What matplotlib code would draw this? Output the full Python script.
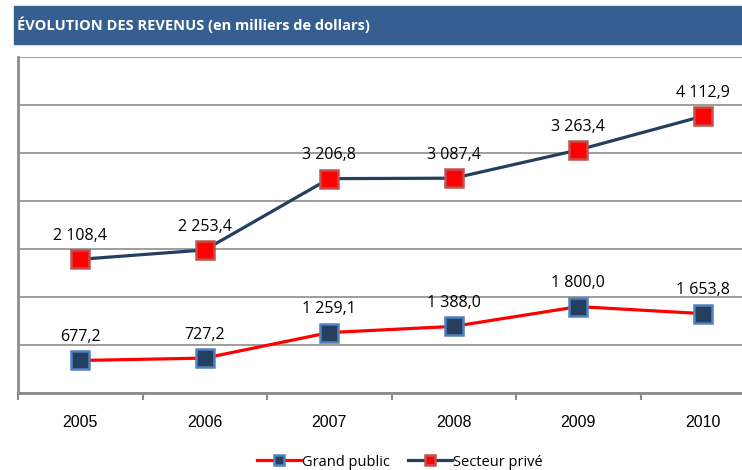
import numpy as np
import matplotlib
matplotlib.use("Agg")
import matplotlib.pyplot as plt
from matplotlib.patches import Rectangle

# Données (en milliers de dollars) - courbes empilées
annees = ["2005", "2006", "2007", "2008", "2009", "2010"]
grand_public = [677.2, 727.2, 1259.1, 1388.0, 1800.0, 1653.8]
secteur_prive = [2108.4, 2253.4, 3206.8, 3087.4, 3263.4, 4112.9]
titre = "ÉVOLUTION DES REVENUS (en milliers de dollars)"

BLEU = "#243F60"
ROUGE = "#FF0000"


def fmt(v):
    # format français : espace pour les milliers, virgule décimale
    s = f"{v:,.1f}".replace(",", " ").replace(".", ",")
    return s


def main() -> None:
    fig = plt.figure(figsize=(7.42, 4.70), dpi=100)

    # Bandeau du titre
    fig.patches.append(Rectangle((14 / 742, 1 - 44 / 470), 1, 38 / 470,
                                 transform=fig.transFigure, color="#365F91",
                                 zorder=0))
    fig.text(17 / 742, 1 - 25 / 470, titre, color="white", fontsize=10.5,
             fontweight="bold", family="Open Sans", va="center", ha="left")

    ax = fig.add_axes([18 / 742, 1 - 393 / 470, 747 / 742, 336 / 470])
    x = np.arange(len(annees))
    gp = np.array(grand_public)
    sp = gp + np.array(secteur_prive)

    ax.plot(x, gp, color=ROUGE, lw=2.3, marker="s", ms=12.5,
            mfc=BLEU, mec="#4F81BD", mew=1.8, label="Grand public", zorder=3)
    ax.plot(x, sp, color=BLEU, lw=2.3, marker="s", ms=12.5,
            mfc=ROUGE, mec="#C0504D", mew=1.8, label="Secteur privé", zorder=3)

    for xi, yi, v in zip(x, gp, grand_public):
        ax.annotate(fmt(v), (xi, yi), xytext=(0, 11), textcoords="offset points",
                    ha="center", va="bottom", fontsize=11.5, family="Open Sans")
    for xi, yi, v in zip(x, sp, secteur_prive):
        ax.annotate(fmt(v), (xi, yi), xytext=(0, 11), textcoords="offset points",
                    ha="center", va="bottom", fontsize=11.5, family="Open Sans")

    ax.set_xlim(-0.5, 5.5)
    ax.set_ylim(0, 7000)
    ax.set_yticks(np.arange(0, 7001, 1000))
    ax.set_yticklabels([])
    ax.tick_params(axis="y", length=0)
    ax.grid(axis="y", color="#8C8C8C", lw=1.2)
    ax.set_axisbelow(True)

    ax.set_xticks(x)
    ax.set_xticklabels(annees, family="Liberation Sans", fontsize=11.5)
    ax.set_xticks(np.arange(-0.5, 5.6, 1), minor=True)
    ax.tick_params(axis="x", which="major", length=0, pad=16)
    ax.tick_params(axis="x", which="minor", length=5, width=1.5, color="#8C8C8C")

    for s in ["top", "right"]:
        ax.spines[s].set_visible(False)
    for s in ["left", "bottom"]:
        ax.spines[s].set_color("#8C8C8C")
        ax.spines[s].set_linewidth(2)

    fig.legend(loc="center", bbox_to_anchor=(400 / 742, 1 - 462 / 470),
               ncol=2, frameon=False, handlelength=3,
               columnspacing=1.2, handletextpad=0.1, markerscale=0.55,
               prop={"family": "Open Sans", "size": 10.5})

    fig.savefig("out.png", dpi=100)


if __name__ == "__main__":
    main()
